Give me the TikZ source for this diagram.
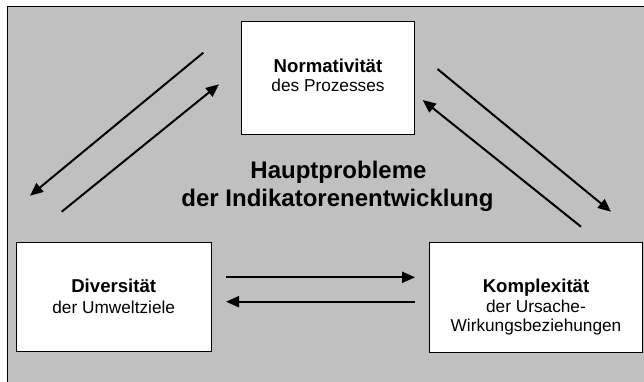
\documentclass[tikz,border=0pt]{standalone}
\usepackage{fontspec}
\setmainfont{Liberation Sans}
\usetikzlibrary{arrows.meta}
\definecolor{bggray}{HTML}{C0C0C0}
\begin{document}
\begin{tikzpicture}[x=1pt,y=-1pt,
  box/.style={draw=black, line width=1pt, fill=white, inner sep=0pt, rectangle},
  boldtxt/.style={anchor=base, inner sep=0pt, font=\fontsize{18.6}{21}\selectfont\bfseries},
  regtxt/.style={anchor=base, inner sep=0pt, font=\fontsize{17.25}{20}\selectfont},
  titletxt/.style={anchor=base, inner sep=0pt, font=\fontsize{24}{28}\selectfont\bfseries},
  arr/.style={line width=2pt, -{Triangle[length=13pt,width=11pt]}}]
\useasboundingbox (0,0) rectangle (644,382);
\fill[white] (0,0) rectangle (644,382);
\draw[line width=1.3pt, fill=bggray] (7.3,6.3) rectangle (660,400);
% boxes
\node[box, minimum width=172.6pt, minimum height=113pt] (norm) at (328,78.5) {};
\node[box, minimum width=195pt, minimum height=109.4pt] (div) at (113.5,297) {};
\node[box, minimum width=213pt, minimum height=110pt] (komp) at (535.8,297.3) {};
% texts
\node[boldtxt] (n1) at (328,72.2) {Normativität};
\node[regtxt] (n2) at (328,91.4) {des Prozesses};
\node[boldtxt] (d1) at (113.7,292.5) {Diversität};
\node[regtxt] (d2) at (113.7,313) {der Umweltziele};
\node[boldtxt] (k1) at (536,292.5) {Komplexität};
\node[regtxt] (k2) at (536,312.5) {der Ursache-};
\node[regtxt] (k3) at (536,331.3) {Wirkungsbeziehungen};
\node[titletxt] (t1) at (338.5,178) {Hauptprobleme};
\node[titletxt] (t2) at (337.5,206) {der Indikatorenentwicklung};
% arrow end points
\coordinate (a1s) at (203.3,52.7);
\coordinate (a1e) at (30,195.7);
\coordinate (a2s) at (61.7,211.7);
\coordinate (a2e) at (219,84.3);
\coordinate (a3s) at (437.5,69);
\coordinate (a3e) at (611,211.7);
\coordinate (a4s) at (581,226.7);
\coordinate (a4e) at (422.7,100);
\coordinate (a5s) at (226,277.3);
\coordinate (a5e) at (415,277.3);
\coordinate (a6s) at (415,301.7);
\coordinate (a6e) at (226,301.7);
\draw[arr] (a1s) -- (a1e);
\draw[arr] (a2s) -- (a2e);
\draw[arr] (a3s) -- (a3e);
\draw[arr] (a4s) -- (a4e);
\draw[arr] (a5s) -- (a5e);
\draw[arr] (a6s) -- (a6e);
\end{tikzpicture}
\end{document}
